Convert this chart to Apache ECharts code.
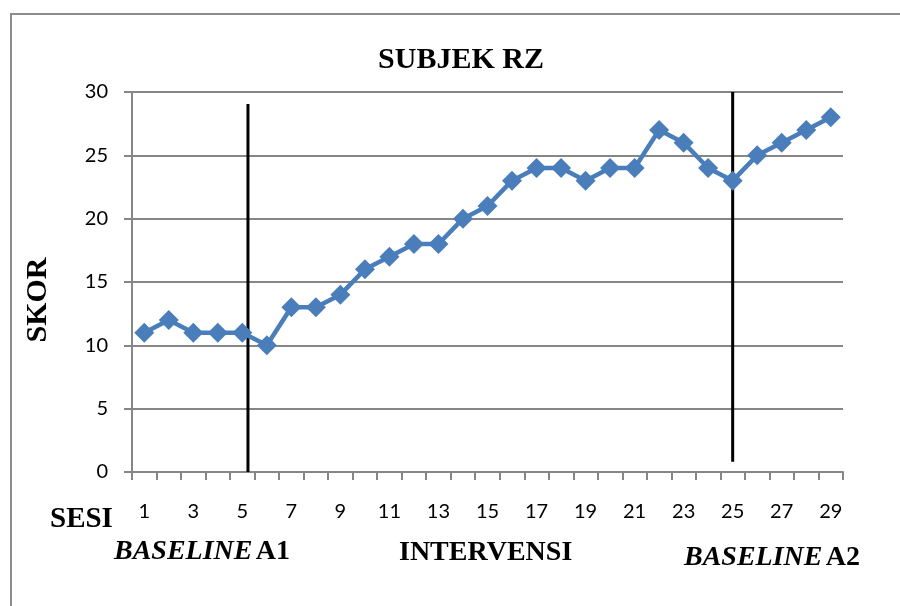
<!DOCTYPE html>
<html>
<head>
<meta charset="utf-8">
<script src="https://cdn.jsdelivr.net/npm/echarts@6/dist/echarts.min.js"></script>
<style>
  html, body { margin: 0; padding: 0; background: #fff; }
  #chart { width: 900px; height: 606px; }
</style>
</head>
<body>
<div id="chart"></div>
<script>
// sesi dan skor subjek RZ
const sessions = Array.from({ length: 29 }, (_, i) => String(i + 1))
const scores = [11, 12, 11, 11, 11, 10, 13, 13, 14, 16, 17, 18, 18, 20, 21, 23, 24, 24, 23, 24, 24, 27, 26, 24, 23, 25, 26, 27, 28]
// garis batas fase: [posisi sesi, skor bawah, skor atas]
const phaseLines = [
  [5.23, 0, 29.05],
  [25.0, 0.8, 30]
]

const serif = '"Liberation Serif", "Times New Roman", serif'
const chart = echarts.init(document.getElementById('chart'))

const option = {
  backgroundColor: '#fff',
  animation: false,
  title: {
    text: 'SUBJEK RZ',
    left: 456,
    top: 40,
    textAlign: 'center',
    textStyle: { fontFamily: serif, fontWeight: 'bold', fontSize: 30, color: '#000' }
  },
  grid: { left: 132, right: 57, top: 92, bottom: 134 },
  xAxis: [
    {
      type: 'category',
      data: sessions,
      axisLine: { lineStyle: { color: '#868686', width: 2 } },
      axisTick: { show: true, interval: 0, length: 8, lineStyle: { color: '#868686', width: 2 } },
      axisLabel: { interval: 1, margin: 30, fontFamily: 'Lato', fontSize: 20, color: '#000' }
    },
    {
      // sumbu bantu untuk garis fase
      type: 'value',
      min: 0.5,
      max: 29.5,
      show: false
    }
  ],
  yAxis: {
    type: 'value',
    min: 0,
    max: 30,
    interval: 5,
    axisLine: { show: true, lineStyle: { color: '#868686', width: 2 } },
    axisTick: { show: true, length: 8, lineStyle: { color: '#868686', width: 2 } },
    axisLabel: { margin: 24, fontFamily: 'Lato', fontSize: 20, color: '#000' },
    splitLine: { lineStyle: { color: '#868686', width: 2 } }
  },
  series: [
    ...phaseLines.map(([x, y0, y1]) => ({
      type: 'line',
      xAxisIndex: 1,
      data: [[x, y0], [x, y1]],
      symbol: 'none',
      lineStyle: { color: '#000', width: 3 },
      z: 3
    })),
    {
      type: 'line',
      data: scores,
      symbol: 'diamond',
      symbolSize: 20,
      showAllSymbol: true,
      lineStyle: { color: '#4A7EBB', width: 4.5 },
      itemStyle: { color: '#4A7EBB' },
      z: 4
    }
  ],
  graphic: [
    {
      type: 'rect',
      shape: { x: 11, y: 14, width: 1000, height: 1000 },
      style: { fill: 'none', stroke: '#8c8c8c', lineWidth: 2 },
      silent: true
    },
    {
      type: 'text',
      x: 38,
      y: 300,
      rotation: Math.PI / 2,
      style: { text: 'SKOR', font: 'bold 30px ' + serif, fill: '#000', align: 'center', verticalAlign: 'middle' }
    },
    {
      type: 'text',
      x: 50,
      y: 520,
      style: { text: 'SESI', font: 'bold 29px ' + serif, fill: '#000', verticalAlign: 'middle' }
    },
    {
      type: 'text',
      x: 114,
      y: 552,
      style: {
        text: '{i|BASELINE} {b|A1}',
        verticalAlign: 'middle',
        rich: {
          i: { fontFamily: serif, fontStyle: 'italic', fontWeight: 'bold', fontSize: 28, color: '#000' },
          b: { fontFamily: serif, fontWeight: 'bold', fontSize: 28, color: '#000' }
        }
      }
    },
    {
      type: 'text',
      x: 399,
      y: 553,
      style: { text: 'INTERVENSI', font: 'bold 28px ' + serif, fill: '#000', verticalAlign: 'middle' }
    },
    {
      type: 'text',
      x: 684,
      y: 558,
      style: {
        text: '{i|BASELINE} {b|A2}',
        verticalAlign: 'middle',
        rich: {
          i: { fontFamily: serif, fontStyle: 'italic', fontWeight: 'bold', fontSize: 28, color: '#000' },
          b: { fontFamily: serif, fontWeight: 'bold', fontSize: 28, color: '#000' }
        }
      }
    }
  ]
}

chart.setOption(option)
</script>
</body>
</html>
